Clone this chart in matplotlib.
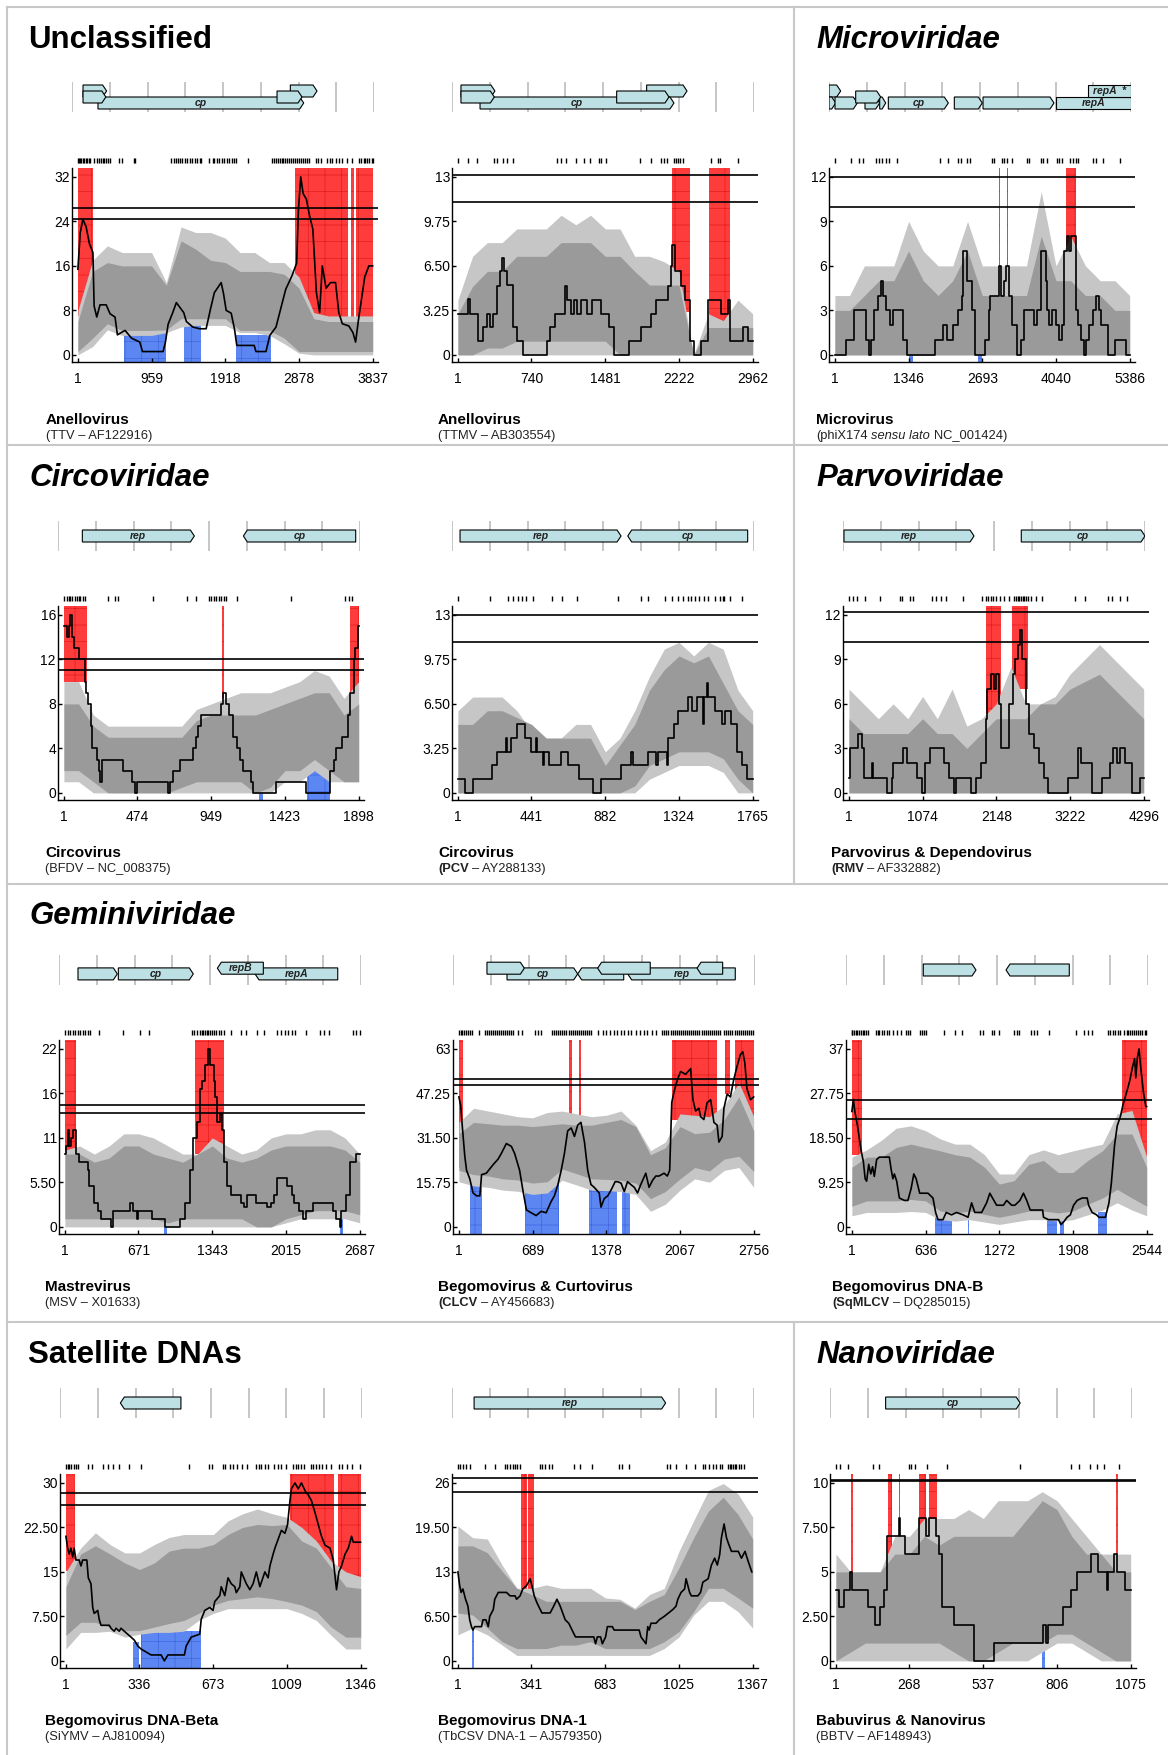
import matplotlib
matplotlib.use("Agg")
import matplotlib.pyplot as plt
from matplotlib.lines import Line2D
from matplotlib.patches import Polygon

plt.rcParams['font.family'] = ['Liberation Sans', 'DejaVu Sans']
plt.rcParams['hatch.linewidth'] = 0.5

W, H = 1168, 1755
NARROW = ['Liberation Sans Narrow', 'DejaVu Sans Condensed', 'Liberation Sans']

RED, RED_GRID = '#ff3c3c', '#e21c1c'
BLUE, BLUE_GRID = '#5c86f2', '#3f68e0'
LIGHT, DARK = '#c6c6c6', '#9a9a9a'
GENE = '#bce0e3'

# band values are sampled every 5 % of the genome
BAND_PCT = [0, 5, 10, 15, 20, 25, 30, 35, 40, 45, 50, 55, 60, 65, 70, 75, 80, 85, 90, 95, 100]

# ---------------- Anellovirus TTV ----------------
ttv_len = 3837
ttv_xlabels = ['1', '959', '1918', '2878', '3837']
ttv_yticks = [0, 8, 16, 24, 32]
ttv_ylabels = ['0', '8', '16', '24', '32']
ttv_thr = [26.4, 24.4]
ttv_line_pct = [0, 0.8, 1.7, 2.8, 3.9, 5.1, 5.5, 6.4, 7.5, 9.6, 10.9, 12.6, 13.4, 16.0, 18.2, 21.0, 21.9, 28.9,
                29.7, 30.6, 32.1, 33.4, 35.9, 36.8, 39.0, 41.3, 43.5, 45.0, 46.3, 48.6, 49.4, 50.3, 52.0, 53.1,
                53.9, 59.8, 60.4, 63.8, 65.1, 67.2, 68.8, 70.5, 72.6, 74.2, 74.8, 75.6, 76.4, 77.5, 78.6, 79.7,
                80.9, 82.0, 82.9, 84.2, 85.7, 87.4, 88.5, 89.7, 91.9, 93.3, 94.2, 95.1, 96.2, 97.3, 98.7, 100]
ttv_line_val = [15.4, 22, 24.4, 23, 20, 18.4, 8.8, 6.8, 9.0, 9.0, 7.4, 6.8, 3.6, 4.4, 3.0, 2.3, 0.6, 0.6, 2.3,
                5.5, 7.5, 9.4, 7.6, 6, 5, 4.7, 4.7, 8.3, 11.2, 13, 11, 8, 7.5, 4.7, 1.7, 1.7, 0.6, 0.6, 3.5, 5,
                8.3, 11.8, 14.2, 16.5, 26, 32, 29, 28, 25, 22.6, 11.2, 7.6, 16, 12, 13, 13, 7.6, 5.6, 5.2, 4,
                2.3, 6, 10, 14, 16, 16]
ttv_light_hi = [8, 17, 19.6, 18.4, 18.4, 18.4, 13, 23, 22, 22, 21, 18.4, 18.4, 16.6, 16.6, 14, 7.6, 7, 7, 7, 7]
ttv_dark_hi = [6, 15, 16.6, 16, 16, 16, 12.5, 20.5, 19, 17, 16.6, 15, 15, 15, 14.5, 12, 6.5, 6, 6, 6, 6]
ttv_dark_lo = [0.6, 3, 5.6, 4.4, 4.4, 4.4, 4.5, 6.5, 6.5, 6.5, 6.5, 4.4, 4.4, 4.4, 3, 0.6, 0.6, 0.6, 0.6, 0.6, 0.6]
ttv_light_lo = [0, 1.5, 4.5, 3.5, 3.5, 3.5, 4, 5, 5.3, 5.3, 5.3, 4, 4, 3.5, 2, 0.3, 0, 0, 0, 0, 0]
ttv_red = [(0, 5.2, 7), (73.7, 91.6, 5.5), (92.5, 93.6, 5.5), (94.5, 100, 5.5)]
ttv_blue = [(15.6, 30.0, 4.0), (36.0, 41.6, 6.8), (53.8, 65.5, 3.5)]
ttv_rug = [0, 0.3, 0.8, 1.2, 1.7, 2.1, 2.6, 3.0, 3.6, 4.2, 5.6, 6.4, 7.2, 7.8, 8.4, 9.0, 9.6, 10.1, 10.9, 13.9,
           14.8, 19.0, 19.3, 31.7, 32.5, 33.2, 34.0, 34.8, 35.4, 36.2, 37.0, 37.9, 38.7, 39.6, 40.4, 41.3, 41.8,
           44.4, 45.8, 46.3, 47.1, 48.0, 48.8, 49.7, 50.5, 51.4, 52.2, 53.1, 53.7, 57.6, 65.8, 66.5, 67.2, 67.8,
           68.5, 69.2, 69.6, 70.3, 71.0, 71.7, 72.3, 73.0, 73.7, 74.4, 75.0, 75.7, 76.4, 77.1, 77.7, 78.4, 80.7,
           81.6, 82.3, 84.6, 85.4, 86.1, 87.6, 88.5, 89.7, 91.3, 93.0, 95.5, 96.2, 96.9, 97.5, 98.2, 98.9, 99.6, 100]
ttv_genes = [(140, 440, 1, 2, ''), (2774, 3113, 1, 2, ''), (330, 2944, 1, 0, 'cp'),
             (140, 430, 1, 1, ''), (2605, 2922, 1, 1, '')]

# ---------------- Anellovirus TTMV ----------------
ttmv_len = 2962
ttmv_xlabels = ['1', '740', '1481', '2222', '2962']
ttmv_yticks = [0, 3.25, 6.5, 9.75, 13]
ttmv_ylabels = ['0', '3.25', '6.50', '9.75', '13']
ttmv_thr = [13.17, 11.15]
ttmv_line_pct = [0, 3.4, 4.0, 6.8, 8.5, 9.9, 10.8, 12.0, 13.1, 14.2, 15.1, 15.6, 16.5, 18.8, 19.9, 22.0, 30.2,
                 31.3, 33.0, 36.4, 37.0, 38.2, 39.3, 40.5, 41.6, 43.8, 45.6, 48.4, 51.3, 53.0, 58.1, 62.1, 65.5,
                 67.2, 71.2, 72.3, 72.6, 73.5, 75.7, 76.9, 78.6, 80.1, 82.3, 84.9, 89.2, 91.5, 92.3, 96.8, 98.5, 100]
ttmv_line_val = [3.0, 4.1, 3.0, 1.0, 2.0, 3.0, 2.0, 3.0, 5.0, 6.1, 7.1, 6.1, 5.1, 2.0, 1.0, 0, 1.0, 2.0, 3.0,
                 5.0, 4.0, 3.0, 4.0, 3.0, 4.0, 3.0, 4.0, 3.0, 2.0, 0, 1.0, 2.0, 3.0, 4.0, 5.0, 6.5, 8.0, 6.1,
                 5.0, 4.0, 1.0, 0, 1.0, 4.0, 3.0, 4.0, 1.0, 2.0, 1.0, 1.0]
ttmv_light_hi = [4, 7.2, 8.2, 8.2, 9.2, 9.2, 9.2, 10.2, 9.5, 10.2, 9.2, 9.2, 7.2, 7.2, 6.8, 6.1, 0, 3, 2.5, 4, 3]
ttmv_dark_hi = [3, 5, 6.1, 6.1, 7.2, 7.2, 7.2, 8.2, 8.2, 8.2, 7.2, 7.2, 6.1, 5.1, 5.1, 5.1, 0, 2, 2, 2, 2]
ttmv_dark_lo = [0, 0, 0.5, 0.5, 1, 1, 1, 1, 1, 1, 1, 0, 0, 0, 0, 0, 0, 0, 0, 0, 0]
ttmv_light_lo = [0, 0, 0, 0, 0, 0, 0, 0, 0, 0, 0, 0, 0, 0, 0, 0, 0, 0, 0, 0, 0]
ttmv_red = [(72.6, 78.7, 3.1), (85.2, 92.3, 2.1)]
ttmv_blue = []
ttmv_rug = [0, 3.4, 6.6, 12.3, 13.1, 15.4, 16.7, 18.8, 33.6, 35.1, 36.7, 39.9, 42.7, 44.8, 47.8, 48.7, 50.1,
            61.8, 65.5, 68.9, 69.8, 70.9, 73.2, 74.0, 74.8, 75.5, 76.3, 85.8, 88.3, 88.8, 94.9]
ttmv_genes = [(88, 421, 1, 2, ''), (1909, 2305, 1, 2, ''), (275, 2177, 1, 0, 'cp'),
              (88, 415, 1, 1, ''), (1615, 2128, 1, 1, '')]

# ---------------- Microvirus phiX174 ----------------
phix_len = 5386
phix_xlabels = ['1', '1346', '2693', '4040', '5386']
phix_yticks = [0, 3, 6, 9, 12]
phix_ylabels = ['0', '3', '6', '9', '12']
phix_thr = [12.0, 10.0]
phix_line_pct = [0, 3.8, 6.6, 10.6, 11.7, 12.3, 13.4, 14.6, 15.7, 16.3, 17.4, 18.6, 19.7, 23.1, 24.3, 33.9, 36.8,
                 37.9, 40.2, 41.9, 43.1, 43.6, 44.8, 46.5, 47.6, 51.0, 52.2, 52.7, 55.6, 56.2, 57.3, 57.9, 59.0,
                 60.1, 61.8, 63.0, 64.1, 67.5, 68.7, 69.8, 71.5, 72.1, 72.7, 73.8, 74.9, 76.1, 77.2, 77.8, 78.9,
                 79.5, 80.1, 81.8, 82.3, 83.5, 84.6, 85.2, 86.3, 87.5, 88.6, 89.7, 90.3, 92.6, 94.9, 98.9, 100]
phix_line_val = [0, 1, 3, 1, 0, 1, 3, 4, 5, 4, 3, 2, 3, 1, 0, 1, 2, 1, 2, 3, 4, 7, 5, 3, 0, 1, 3, 4, 6, 4, 5, 6,
                 4, 2, 0, 1, 3, 2, 3, 7, 5, 3, 2, 3, 2, 1, 2, 7, 8, 7, 8, 3, 2, 1, 0, 1, 2, 3, 4, 3, 2, 0, 1, 0, 0]
phix_light_hi = [4, 4, 6, 6, 6, 9, 7, 6, 6, 9, 6, 6, 6, 6, 11, 6, 8, 6, 5, 5, 4]
phix_dark_hi = [3, 3, 4, 5, 5, 7, 5, 4, 5, 7, 4, 4, 4, 4, 8, 5, 5, 4, 4, 3, 3]
phix_dark_lo = [0, 0, 0, 0, 0, 0, 0, 0, 0, 0, 0, 0, 0, 0, 0, 0, 0, 0, 0, 0, 0]
phix_light_lo = [0, 0, 0, 0, 0, 0, 0, 0, 0, 0, 0, 0, 0, 0, 0, 0, 0, 0, 0, 0, 0]
phix_red = [(55.5, 55.8, 6), (58.3, 58.6, 6), (78.4, 81.8, 6)]
phix_blue = [(25.1, 26.5, 1), (48.4, 49.9, 1)]
phix_rug = [0, 5.5, 8.3, 9.7, 14.0, 14.9, 16.1, 17.4, 18.3, 21.1, 35.6, 38.5, 41.9, 42.7, 44.8, 45.7, 53.3, 54.1,
            56.7, 57.5, 58.4, 60.1, 65.0, 65.8, 69.8, 70.7, 71.9, 75.3, 76.1, 77.2, 79.8, 80.6, 81.8, 82.6, 87.5,
            88.6, 90.9, 96.6]
phix_genes = [(0, 208, 1, 2, ''), (0, 120, 1, 0, ''), (107, 505, 1, 0, ''), (642, 904, 1, 0, ''),
              (904, 1011, 1, 0, ''), (1058, 2128, 1, 0, 'cp'), (2235, 2734, 1, 0, ''), (2747, 4013, 1, 0, ''),
              (4043, 5386, 0, 0, 'repA'), (4625, 5386, 0, 2, 'repA  *'), (476, 922, 1, 1, '')]

# ---------------- Circovirus BFDV ----------------
bfdv_len = 1898
bfdv_xlabels = ['1', '474', '949', '1423', '1898']
bfdv_yticks = [0, 4, 8, 12, 16]
bfdv_ylabels = ['0', '4', '8', '12', '16']
bfdv_thr = [12.0, 11.04]
bfdv_line_pct = [0, 1.1, 1.7, 2.0, 2.7, 3.4, 5.1, 7.3, 7.6, 8.1, 9.2, 9.7, 11.2, 11.8, 12.4, 12.9, 20.2, 23.0,
                 24.2, 24.9, 35.4, 36.0, 37.1, 39.3, 43.8, 44.9, 45.5, 46.6, 53.4, 53.9, 55.1, 56.0, 57.3, 58.7,
                 59.6, 60.7, 63.5, 64.0, 71.9, 82.0, 90.4, 91.6, 92.4, 94.4, 96.4, 97.2, 98.3, 98.9, 99.8, 100]
bfdv_line_val = [15, 14, 15, 16, 14, 13, 12, 10, 9, 8, 6, 4, 3, 2, 1, 3, 2, 1, 0, 1, 0, 1, 2, 3, 4, 5, 6, 7, 8,
                 9, 8, 7, 5, 4, 3, 2, 1, 0, 1, 0, 2, 3, 4, 5, 7, 9, 12, 13, 15, 15]
bfdv_light_hi = [10, 10, 7, 6, 6, 6, 6, 6, 6, 7.5, 8, 8.5, 9, 9, 9, 9.5, 10, 11, 10.5, 8.5, 10]
bfdv_dark_hi = [8, 8, 6, 5, 5, 5, 5, 5, 5, 6.5, 7, 7, 7, 7, 7.5, 8, 8.5, 9, 9, 7, 8]
bfdv_dark_lo = [2, 2, 1, 0, 0, 0, 0, 0, 0.5, 1, 1, 1, 1, 0, 0.5, 2, 2, 3, 2, 1, 1]
bfdv_light_lo = [1, 1, 0, 0, 0, 0, 0, 0, 0, 0, 0, 0, 0, 0, 0, 1, 1, 2, 1, 1, 1]
bfdv_red = [(0, 7.9, 10), (53.6, 54.3, 8.5), (97.0, 100, 8)]
bfdv_blue = [(66.1, 67.4, 1), (82.6, 90.4, 2)]
bfdv_rug = [0.2, 0.9, 1.7, 2.2, 2.8, 3.6, 4.3, 5.1, 5.6, 6.5, 7.3, 14.9, 17.4, 18.2, 30.3, 41.6, 44.9, 49.2, 50.0,
            50.8, 51.7, 52.5, 53.4, 54.2, 55.1, 58.8, 77.2, 95.5, 96.6, 97.8]
bfdv_genes = [(153, 857, 1, 1, 'rep'), (1165, 1871, -1, 1, 'cp')]

# ---------------- Circovirus PCV ----------------
pcv_len = 1765
pcv_xlabels = ['1', '441', '882', '1324', '1765']
pcv_yticks = [0, 3.25, 6.5, 9.75, 13]
pcv_ylabels = ['0', '3.25', '6.50', '9.75', '13']
pcv_thr = [13.0, 11.0]
pcv_line_pct = [0, 2.5, 5.1, 11.6, 13.3, 16.2, 16.6, 17.9, 20.1, 22.6, 24.7, 26.4, 27.0, 28.7, 29.2, 30.9, 34.9,
                37.2, 41.2, 45.7, 48.4, 55.4, 58.6, 59.4, 64.5, 67.3, 67.9, 70.8, 71.3, 73.4, 74.8, 78.2, 79.3,
                81.0, 83.3, 83.6, 84.4, 85.0, 87.3, 89.5, 90.7, 92.7, 94.7, 96.4, 98.1, 100]
pcv_line_val = [1, 0, 1, 2, 3, 4, 3, 4, 5, 4, 3, 4, 3, 2, 3, 2, 3, 2, 1, 0, 1, 2, 3, 2, 3, 2, 3, 2, 4, 5, 6, 7,
                6, 7, 5, 7, 8, 7, 6, 5, 6, 5, 3, 2, 1, 1]
pcv_light_hi = [6, 7, 7, 7, 6, 4.5, 4, 4, 5, 5, 3, 4, 6, 8.5, 10.5, 11, 10, 11, 10.5, 7.5, 6]
pcv_dark_hi = [5, 5, 6, 6, 5.5, 5, 4, 4, 4, 4, 2, 3.5, 5, 7.5, 9, 10, 9.5, 10, 8, 6, 5]
pcv_dark_lo = [0, 0, 0, 0, 0, 0, 0, 0, 0, 0, 0, 0, 0.5, 2, 2.5, 3, 3, 3, 2.5, 1, 0]
pcv_light_lo = [0, 0, 0, 0, 0, 0, 0, 0, 0, 0, 0, 0, 0, 1, 1.5, 2, 2, 2, 1.5, 0, 0]
pcv_red = []
pcv_blue = []
pcv_rug = [0.2, 10.8, 17.1, 18.8, 20.4, 21.8, 23.0, 25.6, 31.9, 35.3, 40.3, 54.3, 62.2, 64.5, 70.2, 72.7, 74.5,
           76.5, 77.9, 79.1, 80.4, 81.9, 83.6, 84.8, 87.3, 89.0, 89.8, 90.4, 92.4, 96.4]
pcv_genes = [(47, 988, 1, 1, 'rep'), (1027, 1728, -1, 1, 'cp')]

# ---------------- Parvovirus RMV ----------------
rmv_len = 4296
rmv_xlabels = ['1', '1074', '2148', '3222', '4296']
rmv_yticks = [0, 3, 6, 9, 12]
rmv_ylabels = ['0', '3', '6', '9', '12']
rmv_thr = [12.2, 10.2]
rmv_line_pct = [0, 0.3, 3.2, 4.3, 5.1, 7.7, 8.3, 12.9, 14.6, 15.1, 18.5, 19.7, 23.1, 24.8, 25.9, 27.6, 32.2, 33.9,
                35.6, 36.5, 41.3, 43.0, 44.7, 46.4, 47.0, 48.1, 49.3, 49.8, 51.0, 51.5, 54.4, 55.5, 56.3, 57.2,
                58.1, 58.6, 60.1, 61.2, 62.9, 64.6, 66.3, 67.7, 74.3, 77.7, 78.8, 82.3, 85.7, 88.5, 89.6, 90.8,
                91.9, 93.6, 95.9, 98.7, 100]
rmv_line_val = [1, 3, 4, 3, 1, 2, 1, 0, 1, 2, 3, 2, 1, 0, 2, 3, 2, 1, 0, 1, 0, 1, 2, 5, 7, 8, 7, 8, 6, 3, 6, 8, 9,
                10, 11, 9, 6, 4, 3, 2, 1, 0, 1, 3, 2, 0, 1, 2, 3, 2, 3, 2, 0, 1, 1]
rmv_light_hi = [7, 6, 5, 6, 5, 6.5, 5, 7, 4.5, 5, 6, 8.5, 6, 6, 6.5, 8, 9, 10, 9, 8, 7]
rmv_dark_hi = [5, 4, 4, 4, 4, 5, 4, 4, 3, 4, 5, 5, 5, 6, 6, 7, 7.5, 8, 7, 6, 5]
rmv_dark_lo = [0, 0, 0, 0, 0, 0, 0, 0, 0, 0, 0, 0, 0, 0, 0, 0, 0, 0, 0, 0, 0]
rmv_light_lo = [0, 0, 0, 0, 0, 0, 0, 0, 0, 0, 0, 0, 0, 0, 0, 0, 0, 0, 0, 0, 0]
rmv_red = [(46.4, 51.5, 5.3), (55.3, 60.6, 7)]
rmv_blue = []
rmv_rug = [0, 1.5, 2.6, 5.5, 10.4, 17.2, 18.0, 20.6, 21.7, 28.2, 29.7, 31.3, 33.1, 38.8, 45.3, 46.4, 47.2, 48.1,
           49.0, 49.8, 51.3, 52.7, 54.4, 56.1, 56.7, 57.2, 57.8, 58.4, 58.9, 59.5, 60.1, 60.9, 61.8, 63.5, 65.4,
           76.6, 80.0, 87.9, 89.1, 91.9, 94.2]
rmv_genes = [(14, 1864, 1, 1, 'rep'), (2536, 4296, 1, 1, 'cp')]

# ---------------- Mastrevirus MSV ----------------
msv_len = 2687
msv_xlabels = ['1', '671', '1343', '2015', '2687']
msv_yticks = [0, 5.5, 11, 16.5, 22]
msv_ylabels = ['0', '5.50', '11', '16', '22']
msv_thr = [15.07, 14.08]
msv_line_pct = [0, 0.3, 0.9, 1.5, 2.1, 2.6, 3.8, 4.9, 7.7, 8.3, 10.0, 11.2, 12.3, 15.7, 16.3, 22.0, 23.1, 24.3,
                24.8, 29.4, 33.9, 39.1, 40.8, 42.5, 43.6, 44.8, 45.9, 46.5, 47.6, 48.7, 49.3, 50.5, 51.0, 51.6,
                52.7, 53.3, 53.9, 55.0, 56.2, 59.6, 60.7, 61.8, 64.7, 68.7, 69.8, 71.0, 72.1, 75.5, 77.2, 77.8,
                79.5, 80.6, 81.8, 84.1, 90.9, 92.0, 93.2, 93.7, 95.4, 96.6, 98.9, 100]
msv_line_val = [9, 10, 12, 10, 11, 12, 9, 8, 7, 5, 3, 2, 1, 0, 2, 3, 2, 1, 2, 1, 0, 1, 3, 7, 11, 13, 17, 18, 20,
                22, 20, 18, 16, 13, 14, 12, 8, 5, 4, 3, 2.5, 4, 3, 2.5, 3, 4, 6, 5, 4, 3, 2, 1, 2, 3, 2, 1, 0, 2,
                4, 8, 9, 9]
msv_light_hi = [9.5, 10, 9, 10, 11.5, 11.5, 11, 10, 9, 9, 11, 10, 9, 9.5, 11, 11.5, 11.5, 12, 12, 11, 9]
msv_dark_hi = [9, 9, 8, 8.5, 10, 10, 9, 8.5, 8, 9, 10, 8.5, 8, 8.5, 9.5, 10, 10, 10, 10, 9.5, 8]
msv_dark_lo = [1, 1, 1, 1, 1, 1, 1, 0.5, 1, 1, 1, 1, 1, 0, 0, 1, 1.5, 2, 2, 2, 1.5]
msv_light_lo = [0, 0, 0, 0, 0, 0, 0, 0, 0, 0, 0, 0, 0, 0, 0, 0.5, 1, 1, 1, 1, 0.5]
msv_red = [(0.1, 3.8, 9), (44.2, 53.9, 9)]
msv_blue = [(33.7, 34.7, 1), (93.2, 94.3, 1)]
msv_rug = [0, 0.9, 1.7, 2.6, 3.5, 4.3, 5.1, 6.0, 6.9, 7.7, 8.5, 11.7, 19.7, 25.4, 28.6, 43.1, 43.8, 44.8, 45.9,
           46.5, 47.0, 47.6, 48.2, 48.7, 49.3, 49.9, 50.5, 51.4, 52.2, 53.0, 53.9, 56.2, 59.6, 61.3, 65.0, 67.5,
           72.1, 73.2, 74.6, 75.7, 77.2, 78.0, 81.8, 86.7, 87.8, 89.7, 97.7, 98.9, 100]
msv_genes = [(169, 519, 1, 0.35, ''), (528, 1195, 1, 0.35, 'cp'), (1744, 2480, -1, 0.35, 'repA'),
             (1409, 1818, -1, 1.3, 'repB')]

# ---------------- Begomovirus CLCV ----------------
clcv_len = 2756
clcv_xlabels = ['1', '689', '1378', '2067', '2756']
clcv_yticks = [0, 15.75, 31.5, 47.25, 63]
clcv_ylabels = ['0', '15.75', '31.50', '47.25', '63']
clcv_thr = [52.2, 50.2]
clcv_line_pct = [0, 0.6, 1.2, 2.0, 2.6, 3.7, 4.8, 6.0, 7.1, 7.7, 9.3, 11.6, 13.3, 14.4, 16.1, 17.8, 18.9, 20.6,
                 21.7, 22.9, 24.5, 26.2, 27.9, 29.6, 31.3, 32.4, 33.6, 34.7, 35.8, 36.9, 38.1, 39.2, 40.3, 41.4,
                 42.6, 43.7, 44.8, 45.9, 47.6, 48.2, 49.3, 50.5, 51.6, 53.0, 53.8, 55.0, 56.1, 57.2, 58.3, 59.5,
                 60.6, 61.7, 63.4, 64.5, 65.7, 66.8, 67.9, 69.6, 70.7, 71.5, 72.2, 73.0, 74.1, 75.2, 76.9, 78.6,
                 79.4, 80.3, 81.4, 82.0, 83.1, 84.2, 85.4, 86.5, 87.6, 88.2, 89.3, 89.9, 91.0, 92.1, 93.2, 94.4,
                 95.5, 96.3, 97.0, 97.7, 98.9, 100]
clcv_line_val = [46, 43, 35, 25, 20, 17, 12, 11, 11, 18.5, 19, 22, 24, 26, 29.5, 28.5, 26, 20, 13, 6, 5, 4, 5.5,
                 5, 9, 11, 15, 20, 26, 34, 35, 32, 36, 37, 30, 20, 15, 14, 12, 7, 10, 11, 13, 16, 16, 15.5, 12.5,
                 16, 15, 14, 12, 15, 19, 14, 16.5, 18, 18, 19, 18, 20, 44, 48, 52, 55, 54, 56, 45, 41, 42, 39,
                 38, 44, 45, 37, 36, 30, 32, 42, 47, 46, 52, 57, 61, 62, 58, 49, 45, 46]
clcv_light_hi = [37, 42, 41, 40, 39, 38.6, 40.5, 41, 40, 39, 39.5, 41, 36, 27, 30, 40, 39.5, 39, 43, 51, 39]
clcv_dark_hi = [33, 37, 36.5, 36, 36, 35.5, 36, 36.5, 36, 36, 37, 38, 35.5, 25.5, 28, 35.5, 33, 33.5, 38, 46, 34]
clcv_dark_lo = [20, 18.5, 18, 17, 16.6, 15.5, 16, 20.5, 18.8, 17, 16.8, 16.5, 15.5, 10, 12.5, 17, 21, 19.8, 24, 25,
                19.6]
clcv_light_lo = [16, 14.5, 14, 13, 12.6, 11.5, 12, 16.5, 14.8, 13, 12.8, 12.5, 11.5, 5.5, 8, 13, 17, 15.8, 20, 21,
                 14]
clcv_red = [(0, 1.5, 20.8), (37.2, 38.4, 36), (40.9, 41.1, 38.6), (72.4, 87.6, 38), (90.2, 91.8, 47),
            (93.6, 100, 38.6)]
clcv_blue = [(3.7, 7.7, 18.4), (22.3, 34.1, 19), (44.3, 53.8, 17.8), (55.3, 58.0, 17.2)]
clcv_rug = [0, 0.6, 1.2, 1.8, 2.4, 3.0, 3.6, 4.3, 6.9, 8.8, 9.5, 10.1, 10.8, 11.5, 12.2, 12.8, 13.5, 14.2, 14.8,
            15.5, 16.2, 16.9, 17.6, 18.3, 20.0, 21.5, 25.7, 26.8, 27.9, 31.6, 32.3, 33.0, 33.7, 34.4, 35.1, 35.8,
            36.5, 37.2, 37.9, 38.6, 39.3, 40.0, 40.7, 41.4, 42.1, 42.8, 43.5, 44.2, 44.9, 47.1, 48.8, 49.9, 51.2,
            52.7, 53.8, 54.9, 56.1, 57.2, 58.3, 60.2, 61.4, 62.8, 63.9, 65.4, 66.7, 69.0, 69.7, 70.4, 71.1, 71.8,
            72.5, 73.2, 73.9, 74.6, 75.3, 76.0, 76.7, 77.4, 78.1, 78.8, 79.5, 80.2, 80.9, 81.6, 82.3, 83.0, 83.7,
            84.4, 85.1, 85.8, 86.5, 87.2, 87.9, 88.6, 90.0, 90.7, 91.4, 92.1, 92.8, 93.5, 94.2, 94.9, 95.6, 96.3,
            97.0, 97.7, 98.4, 99.1, 99.8]
clcv_genes = [(493, 1138, 1, 0.35, 'cp'), (1138, 1558, -1, 0.35, ''), (1594, 2576, -1, 0.35, 'rep'),
              (310, 651, 1, 1.3, ''), (1320, 1800, -1, 1.3, ''), (2227, 2461, -1, 1.3, '')]

# ---------------- Begomovirus DNA-B SqMLCV ----------------
sqm_len = 2544
sqm_xlabels = ['1', '636', '1272', '1908', '2544']
sqm_yticks = [0, 9.25, 18.5, 27.75, 37]
sqm_ylabels = ['0', '9.25', '18.50', '27.75', '37']
sqm_thr = [26.3, 22.4]
sqm_line_pct = [0, 0.5, 1.0, 1.9, 3.1, 3.9, 4.5, 5.0, 5.7, 6.4, 7.0, 7.6, 8.4, 9.3, 12.7, 13.3, 13.9, 14.4, 15.2,
                16.1, 17.8, 19.0, 20.1, 21.0, 21.8, 23.0, 25.8, 27.5, 28.4, 29.2, 30.9, 32.0, 33.8, 35.5, 37.7,
                39.4, 40.6, 41.7, 44.0, 45.7, 46.8, 47.7, 49.1, 51.4, 52.5, 54.2, 55.3, 57.0, 58.2, 59.3, 60.5,
                64.7, 65.0, 66.7, 70.1, 70.9, 71.8, 73.0, 74.1, 75.2, 76.4, 78.1, 79.8, 80.3, 81.5, 83.0, 83.8,
                86.0, 87.2, 88.0, 89.1, 90.0, 91.1, 92.0, 93.2, 94.3, 95.1, 95.9, 96.3, 96.8, 97.4, 98.0, 98.9,
                99.7, 100]
sqm_line_val = [24, 26.5, 24, 21, 16, 13.5, 10, 9.5, 13, 11, 12.5, 10.5, 14, 14.5, 14.5, 12, 10, 11, 9.5, 6, 5.5,
                5.5, 8, 11, 10, 7, 7, 6, 3, 1.5, 1.5, 3, 2.5, 3, 2.5, 2, 5, 3, 3, 5, 7, 6, 4.5, 4.5, 5.5, 4.5,
                4.5, 5.5, 7, 5.5, 3.5, 3.5, 2, 1.5, 1.5, 0.5, 1, 2, 2.5, 4.5, 5.5, 6, 6, 4.5, 3, 2.5, 2, 2, 5, 9,
                17, 21, 23, 25.5, 28, 30.5, 33, 35, 31, 35, 37, 33, 28, 25, 25]
sqm_light_hi = [14.5, 16, 18, 20.5, 21, 20, 18.3, 17.2, 17.2, 15, 11, 11, 15, 16, 15, 15.8, 16.5, 17.2, 23.5,
                24.2, 14.5]
sqm_dark_hi = [12.4, 14.5, 14.5, 16.5, 17.2, 16.5, 15.8, 15, 14.5, 12.4, 8.9, 9.6, 13, 13.8, 11.3, 11.3, 13.8,
               15.8, 19.3, 19.3, 12.4]
sqm_dark_lo = [4.3, 5.4, 5.4, 5.4, 5.7, 5.4, 3.3, 2.9, 3.3, 2.6, 2, 2.6, 3.3, 3.3, 2.9, 3.3, 4.7, 6, 7.8, 6, 4.3]
sqm_light_lo = [2.3, 3, 3, 3, 3.2, 3, 1.5, 1.2, 1.5, 1, 0.5, 1, 1.5, 1.5, 1.2, 1.5, 2.5, 3.5, 5, 3.5, 2.3]
sqm_red = [(0, 3.4, 15), (91.5, 100, 14.5)]
sqm_blue = [(28.1, 33.8, 3), (39.4, 39.7, 2), (66.1, 69.5, 2), (70.7, 72.0, 1.5), (83.4, 86.4, 3)]
sqm_rug = [0, 0.2, 0.8, 1.4, 1.9, 2.5, 3.1, 3.6, 4.2, 4.8, 5.6, 8.2, 8.8, 9.3, 10.2, 11.0, 11.8, 12.5, 14.1, 15.2,
           16.7, 18.2, 19.1, 19.8, 23.2, 23.9, 24.5, 25.2, 31.1, 35.1, 37.4, 43.6, 44.5, 47.4, 48.2, 50.0, 55.0,
           55.9, 56.8, 60.7, 61.8, 62.7, 66.7, 76.1, 78.6, 80.0, 81.3, 86.8, 87.7, 88.6, 89.4, 90.2, 91.1, 92.3,
           93.2, 93.6, 94.3, 95.1, 95.7, 96.4, 97.0, 97.7, 98.5, 99.3, 99.8]
sqm_genes = [(651, 1095, 1, 1, ''), (1348, 1881, -1, 1, '')]

# ---------------- Begomovirus DNA-Beta SiYMV ----------------
siy_len = 1346
siy_xlabels = ['1', '336', '673', '1009', '1346']
siy_yticks = [0, 7.5, 15, 22.5, 30]
siy_ylabels = ['0', '7.50', '15', '22.50', '30']
siy_thr = [28.3, 26.2]
siy_line_pct = [0, 0.6, 1.1, 1.7, 2.3, 2.8, 3.4, 4.5, 5.1, 5.7, 7.1, 7.6, 8.5, 9.1, 9.6, 10.8, 11.3, 11.9, 14.7,
                15.3, 16.4, 17.0, 18.1, 18.7, 19.8, 22.1, 23.2, 24.4, 25.5, 28.9, 32.3, 33.4, 34.6, 40.2, 40.8,
                42.5, 45.4, 45.9, 47.1, 48.8, 49.9, 50.5, 52.2, 52.7, 53.9, 55.0, 56.1, 57.3, 57.8, 59.0, 59.5,
                61.2, 62.4, 63.5, 64.6, 65.8, 67.5, 68.6, 69.2, 70.3, 70.9, 72.0, 73.1, 74.3, 75.2, 76.0, 76.5,
                77.7, 78.8, 79.9, 81.3, 82.2, 83.3, 84.5, 85.6, 86.7, 87.9, 89.6, 90.7, 91.8, 92.6, 93.5, 94.7,
                95.8, 96.9, 97.5, 100]
siy_line_val = [21, 19, 18, 19, 17.5, 19, 17, 17, 16, 17, 17, 14, 13, 9, 8, 8.5, 7, 6, 6, 5.5, 5, 5.5, 5, 5.5, 5,
                4, 3.5, 2.5, 2, 1, 1, 0, 1, 1, 2.5, 4, 4.5, 7, 8.5, 9, 8.5, 10, 11, 12.5, 11, 14, 13, 12.5, 11.5,
                12.5, 15, 13, 12, 13, 15, 12.5, 15, 14, 16, 18, 19, 20.5, 22, 21.5, 23, 27, 29, 30, 29, 30, 28.5,
                28, 27, 25, 23, 21, 19.5, 19, 17, 12, 15, 16, 18, 19, 21, 20, 20]
siy_light_hi = [15, 19, 21.6, 19.6, 18.2, 18.2, 19.6, 20.8, 21.3, 21.3, 21.3, 23.6, 24.8, 25.6, 24.8, 24.2, 22.5,
                20.2, 16.8, 15, 14.2]
siy_dark_hi = [12.5, 18, 19.4, 18, 16.5, 15.4, 16.5, 18.5, 19, 19, 19.6, 21.3, 22.5, 23, 22.8, 23, 20.2, 19,
               15.7, 12.5, 12.2]
siy_dark_lo = [4.3, 6.5, 6.5, 5.7, 5.1, 5.1, 5.7, 6.3, 6.8, 8, 9.4, 10.2, 10.5, 10.8, 10.5, 10, 9.4, 8.3, 5.7, 4, 4]
siy_light_lo = [2, 4.8, 4.8, 5, 4, 4.5, 4.8, 4.8, 5, 6.8, 8, 8.8, 8.8, 8.8, 8.8, 8.8, 8, 6.8, 4.3, 2, 2]
siy_red = [(0, 3.1, 15.2), (76.0, 91.1, 15), (92.2, 100, 14.2)]
siy_blue = [(22.9, 24.7, 3.1), (25.5, 45.7, 5)]
siy_rug = [0, 0.6, 1.1, 1.7, 2.6, 3.4, 4.2, 7.6, 8.7, 12.5, 14.2, 15.9, 18.1, 21.5, 25.5, 41.6, 48.4, 49.5, 53.3,
           54.1, 55.6, 56.7, 58.2, 59.8, 61.6, 64.6, 65.4, 66.3, 67.5, 68.4, 70.6, 71.8, 73.1, 74.5, 77.1, 77.9,
           78.8, 79.7, 80.8, 83.3, 83.9, 84.7, 85.8, 87.0, 88.4, 89.9, 92.6, 93.5, 95.2, 96.9, 99.8]
siy_genes = [(269, 539, -1, 1, '')]

# ---------------- Begomovirus DNA-1 TbCSV ----------------
tbc_len = 1367
tbc_xlabels = ['1', '341', '683', '1025', '1367']
tbc_yticks = [0, 6.5, 13, 19.5, 26]
tbc_ylabels = ['0', '6.50', '13', '19.50', '26']
tbc_thr = [26.7, 24.7]
tbc_line_pct = [0, 0.6, 1.1, 1.7, 2.6, 3.4, 4.0, 4.6, 5.1, 5.7, 8.0, 8.5, 9.5, 10.3, 10.8, 12.0, 12.5, 13.7, 16.5,
                17.7, 19.4, 19.9, 21.1, 22.0, 23.3, 24.5, 25.1, 25.9, 26.8, 28.5, 31.3, 32.5, 33.6, 34.7, 36.4,
                37.6, 39.3, 39.9, 46.1, 46.7, 47.3, 48.4, 49.0, 50.1, 50.7, 52.4, 53.0, 61.5, 62.1, 63.8, 64.4,
                64.9, 65.5, 67.2, 68.3, 70.0, 72.9, 74.0, 74.6, 75.7, 76.9, 77.4, 78.0, 78.6, 79.2, 81.4, 82.3,
                83.1, 84.9, 86.0, 87.1, 88.0, 88.8, 89.4, 90.3, 91.1, 91.9, 92.8, 94.0, 95.1, 96.2, 97.4, 98.5, 99.7]
tbc_line_val = [13, 11, 10, 10.5, 9, 8, 6, 5, 4.5, 5, 5, 6, 6, 5, 6.5, 7.5, 9, 10, 10, 9.5, 9.5, 9, 9.5, 10.5, 11,
                12, 11, 9.5, 8.5, 7, 7, 8, 9, 8, 6, 5.5, 4, 3.5, 3.5, 2.5, 3.5, 3.5, 2.5, 3.5, 5, 5, 4.5, 4.5, 3.5,
                2.5, 5, 4.5, 5.5, 5.5, 6, 6.5, 7.5, 8, 9, 10, 10.5, 12, 11, 10, 9.5, 9.5, 10, 11.5, 12, 14, 15, 14,
                15.5, 18, 20, 18, 17, 16, 16, 16, 15, 16, 14.5, 13]
tbc_light_hi = [19.7, 18, 17.8, 14, 10.6, 10.6, 11.1, 10.6, 10.6, 10.6, 9.2, 9, 7.7, 9.7, 10.6, 16, 20.5, 24.9,
                25.9, 24.4, 21]
tbc_dark_hi = [16.8, 16.8, 15.8, 13.1, 10.6, 9.7, 8.7, 8.7, 8.7, 8.7, 8.7, 8.7, 7.5, 8.7, 9.7, 13.6, 18, 21.9, 23.9,
               21.4, 17.8]
tbc_dark_lo = [7, 6.7, 4.8, 2.8, 1.8, 1.8, 1.8, 2.3, 2.3, 2.8, 1.8, 1.8, 1.8, 1.8, 2.8, 4.3, 7.2, 10.6, 10.6, 9.2, 7.7]
tbc_light_lo = [3.8, 4.8, 3.8, 2.3, 0.8, 0.8, 0.8, 0.8, 0.8, 0.8, 0.8, 0.8, 0.8, 0.8, 1.8, 3.5, 6.7, 8.7, 8.7, 7.2,
                4.8]
tbc_red = [(21.4, 23.3, 9.7), (23.8, 25.9, 9.7)]
tbc_blue = [(4.8, 5.6, 4.5)]
tbc_rug = [0, 0.6, 1.7, 2.8, 4.2, 9.1, 12.5, 15.9, 16.7, 17.7, 18.6, 19.4, 20.2, 21.1, 27.7, 28.5, 29.6, 30.8,
           31.9, 39.3, 41.3, 45.6, 54.7, 55.8, 58.1, 71.0, 71.8, 74.0, 77.4, 80.3, 83.1, 83.9, 85.1, 86.6, 87.7,
           88.8, 89.6, 91.7, 92.3, 92.8, 93.4, 94.0, 94.5, 95.3, 96.2, 97.2]
tbc_genes = [(100, 967, 1, 1, 'rep')]

# ---------------- Babuvirus BBTV ----------------
bbtv_len = 1075
bbtv_xlabels = ['1', '268', '537', '806', '1075']
bbtv_yticks = [0, 2.5, 5, 7.5, 10]
bbtv_ylabels = ['0', '2.50', '5', '7.50', '10']
bbtv_thr = [10.15, 10.1]
bbtv_line_pct = [0, 0.9, 2.6, 4.9, 5.5, 10.8, 13.4, 15.1, 16.3, 17.4, 21.4, 21.9, 23.6, 28.2, 30.5, 31.6, 33.9,
                 35.0, 36.1, 40.1, 46.7, 53.5, 70.2, 71.2, 72.0, 77.0, 79.9, 81.9, 86.7, 89.0, 91.8, 92.4, 94.4,
                 95.2, 98.1, 100]
bbtv_line_val = [4, 3, 4, 5, 4, 3, 2, 3, 4, 7, 8, 7, 6, 8, 7, 8, 7, 6, 3, 2, 0, 1, 2, 1, 2, 3, 4, 5, 6, 5, 4, 5,
                 6, 5, 4, 4]
bbtv_light_hi = [6, 5, 5, 5, 7, 7, 8, 8, 8, 8.5, 8, 9, 9, 9, 9.5, 9, 8, 7, 6, 6, 6]
bbtv_dark_hi = [5, 5, 5, 5, 6, 6, 7, 6.5, 7, 7, 7, 7, 7, 8, 9, 8.5, 7, 6, 6, 5, 5]
bbtv_dark_lo = [0, 0.5, 1, 1, 1, 1, 1, 1, 0.5, 0, 0, 0.5, 1, 1, 1, 1.5, 1.5, 1, 0.5, 0, 0]
bbtv_light_lo = [0, 0, 0, 0, 0, 0, 0, 0, 0, 0, 0, 0, 0, 0, 0.5, 1, 1, 0.5, 0, 0, 0]
bbtv_red = [(5.2, 5.6, 5), (17.6, 19.1, 6), (21.4, 21.9, 7), (28.2, 30.5, 7), (31.6, 34.2, 7), (95.0, 95.8, 6)]
bbtv_blue = [(69.9, 71.0, 2)]
bbtv_rug = [0, 1.5, 4.0, 12.6, 14.5, 24.8, 25.6, 26.7, 30.8, 37.6, 62.6, 79.9, 82.4, 86.1, 88.6, 91.1, 96.0]
bbtv_genes = [(198, 677, 1, 1, 'cp')]

N, B, I = 'normal', 'bold', 'italic'
section_titles = [('Unclassified', 28, 48, N), ('Microviridae', 816, 48, I), ('Circoviridae', 29, 486, I),
                  ('Parvoviridae', 816, 486, I), ('Geminiviridae', 29, 924, I), ('Satellite DNAs', 28, 1363, N),
                  ('Nanoviridae', 816, 1363, I)]


def panel(length, xlabels, yticks, ylabels, thr, lpct, lval, lhi, dhi, dlo, llo, red, blue, rug, genes,
          steps, name, sub):
    return dict(length=length, xlabels=xlabels, yticks=yticks, ylabels=ylabels, thr=thr, lpct=lpct, lval=lval,
                lhi=lhi, dhi=dhi, dlo=dlo, llo=llo, red=red, blue=blue, rug=rug, genes=genes, steps=steps,
                name=name, sub=sub)


PANELS = [
    panel(ttv_len, ttv_xlabels, ttv_yticks, ttv_ylabels, ttv_thr, ttv_line_pct, ttv_line_val, ttv_light_hi,
          ttv_dark_hi, ttv_dark_lo, ttv_light_lo, ttv_red, ttv_blue, ttv_rug, ttv_genes, False,
          'Anellovirus', [('(TTV – AF122916)', N, N)]),
    panel(ttmv_len, ttmv_xlabels, ttmv_yticks, ttmv_ylabels, ttmv_thr, ttmv_line_pct, ttmv_line_val, ttmv_light_hi,
          ttmv_dark_hi, ttmv_dark_lo, ttmv_light_lo, ttmv_red, ttmv_blue, ttmv_rug, ttmv_genes, True,
          'Anellovirus', [('(TTMV – AB303554)', N, N)]),
    panel(phix_len, phix_xlabels, phix_yticks, phix_ylabels, phix_thr, phix_line_pct, phix_line_val, phix_light_hi,
          phix_dark_hi, phix_dark_lo, phix_light_lo, phix_red, phix_blue, phix_rug, phix_genes, True,
          'Microvirus', [('(phiX174', N, N), ('sensu lato', N, I), ('NC_001424)', N, N)]),
    panel(bfdv_len, bfdv_xlabels, bfdv_yticks, bfdv_ylabels, bfdv_thr, bfdv_line_pct, bfdv_line_val, bfdv_light_hi,
          bfdv_dark_hi, bfdv_dark_lo, bfdv_light_lo, bfdv_red, bfdv_blue, bfdv_rug, bfdv_genes, True,
          'Circovirus', [('(BFDV – NC_008375)', N, N)]),
    panel(pcv_len, pcv_xlabels, pcv_yticks, pcv_ylabels, pcv_thr, pcv_line_pct, pcv_line_val, pcv_light_hi,
          pcv_dark_hi, pcv_dark_lo, pcv_light_lo, pcv_red, pcv_blue, pcv_rug, pcv_genes, True,
          'Circovirus', [('(PCV', B, N), ('– AY288133)', N, N)]),
    panel(rmv_len, rmv_xlabels, rmv_yticks, rmv_ylabels, rmv_thr, rmv_line_pct, rmv_line_val, rmv_light_hi,
          rmv_dark_hi, rmv_dark_lo, rmv_light_lo, rmv_red, rmv_blue, rmv_rug, rmv_genes, True,
          'Parvovirus & Dependovirus', [('(RMV', B, N), ('– AF332882)', N, N)]),
    panel(msv_len, msv_xlabels, msv_yticks, msv_ylabels, msv_thr, msv_line_pct, msv_line_val, msv_light_hi,
          msv_dark_hi, msv_dark_lo, msv_light_lo, msv_red, msv_blue, msv_rug, msv_genes, True,
          'Mastrevirus', [('(MSV – X01633)', N, N)]),
    panel(clcv_len, clcv_xlabels, clcv_yticks, clcv_ylabels, clcv_thr, clcv_line_pct, clcv_line_val, clcv_light_hi,
          clcv_dark_hi, clcv_dark_lo, clcv_light_lo, clcv_red, clcv_blue, clcv_rug, clcv_genes, False,
          'Begomovirus & Curtovirus', [('(CLCV', B, N), ('– AY456683)', N, N)]),
    panel(sqm_len, sqm_xlabels, sqm_yticks, sqm_ylabels, sqm_thr, sqm_line_pct, sqm_line_val, sqm_light_hi,
          sqm_dark_hi, sqm_dark_lo, sqm_light_lo, sqm_red, sqm_blue, sqm_rug, sqm_genes, False,
          'Begomovirus DNA-B', [('(SqMLCV', B, N), ('– DQ285015)', N, N)]),
    panel(siy_len, siy_xlabels, siy_yticks, siy_ylabels, siy_thr, siy_line_pct, siy_line_val, siy_light_hi,
          siy_dark_hi, siy_dark_lo, siy_light_lo, siy_red, siy_blue, siy_rug, siy_genes, False,
          'Begomovirus DNA-Beta', [('(SiYMV – AJ810094)', N, N)]),
    panel(tbc_len, tbc_xlabels, tbc_yticks, tbc_ylabels, tbc_thr, tbc_line_pct, tbc_line_val, tbc_light_hi,
          tbc_dark_hi, tbc_dark_lo, tbc_light_lo, tbc_red, tbc_blue, tbc_rug, tbc_genes, False,
          'Begomovirus DNA-1', [('(TbCSV DNA-1 – AJ579350)', N, N)]),
    panel(bbtv_len, bbtv_xlabels, bbtv_yticks, bbtv_ylabels, bbtv_thr, bbtv_line_pct, bbtv_line_val, bbtv_light_hi,
          bbtv_dark_hi, bbtv_dark_lo, bbtv_light_lo, bbtv_red, bbtv_blue, bbtv_rug, bbtv_genes, True,
          'Babuvirus & Nanovirus', [('(BBTV – AF148943)', N, N)]),
]

# layout in pixels
AX_LEFT = [72, 452, 829, 58, 452, 843, 59, 453, 846, 60, 452, 830]
NAME_X = [46, 438, 816, 45, 438, 831, 45, 438, 832, 45, 438, 816]
AX_TOP = [168, 606, 1040, 1474]
MAP_TOP = [82, 521, 955, 1388]
NAME_Y = [424, 857, 1291, 1725]
AX_W, AX_H, MAP_W, MAP_H = 306, 194, 302, 30

fig = plt.figure(figsize=(W / 100, H / 100), dpi=100)
renderer = fig.canvas.get_renderer()


def px_axes(left, top, width, height):
    return fig.add_axes([left / W, 1 - (top + height) / H, width / W, height / H])


def to_bp(pct, length):
    return [1 + p / 100 * (length - 1) for p in pct]


def gene_shape(s, e, strand, yc, head):
    h = 6
    head = min(head, (e - s) * 0.6)
    if strand > 0:
        return [(s, yc - h), (e - head, yc - h), (e, yc), (e - head, yc + h), (s, yc + h)]
    if strand < 0:
        return [(s, yc), (s + head, yc - h), (e, yc - h), (e, yc + h), (s + head, yc + h)]
    return [(s, yc - h), (e, yc - h), (e, yc + h), (s, yc + h)]


def draw_panel(p, left, row, name_x):
    L = p['length']
    ax = px_axes(left, AX_TOP[row], AX_W, AX_H)
    ymax = p['yticks'][-1]
    ylo, yhi = -0.04 * ymax, 1.05 * ymax
    xmin, xmax = 1 - 0.02 * L, L * 1.018
    ax.set_xlim(xmin, xmax)
    ax.set_ylim(ylo, yhi)
    min_w = 1.4 * (xmax - xmin) / AX_W  # keep one-site regions visible

    for a, b, bot in p['red']:
        xa, xb = to_bp([a, b], L)
        ax.bar(xa, yhi - bot, width=max(xb - xa, min_w), bottom=bot, align='edge', color=RED,
               edgecolor=RED_GRID, hatch='+', linewidth=0, zorder=1)
    for a, b, top in p['blue']:
        xa, xb = to_bp([a, b], L)
        ax.bar(xa, top - ylo, width=max(xb - xa, min_w), bottom=ylo, align='edge', color=BLUE,
               edgecolor=BLUE_GRID, hatch='+', linewidth=0, zorder=1)

    bx = to_bp(BAND_PCT, L)
    ax.fill_between(bx, p['llo'], p['lhi'], color=LIGHT, linewidth=0, zorder=2)
    ax.fill_between(bx, p['dlo'], p['dhi'], color=DARK, linewidth=0, zorder=3)

    for v in p['thr']:
        ax.axhline(v, color='black', lw=1.2, zorder=4)

    ax.plot(to_bp(p['lpct'], L), p['lval'], color='black', lw=1.2, zorder=5,
            drawstyle='steps-post' if p['steps'] else 'default')

    ax.vlines(to_bp(p['rug'], L), 1 + 5 / AX_H, 1 + 10 / AX_H, transform=ax.get_xaxis_transform(),
              colors='black', lw=1.0, clip_on=False)

    ax.spines[['top', 'right']].set_visible(False)
    for s in ('left', 'bottom'):
        ax.spines[s].set_linewidth(1.0)
    ax.set_xticks([int(s) for s in p['xlabels']])
    ax.set_xticklabels(p['xlabels'], fontfamily=NARROW, fontsize=10)
    ax.set_yticks(p['yticks'])
    ax.set_yticklabels(p['ylabels'], fontfamily=NARROW, fontsize=10)
    ax.tick_params(axis='x', direction='in', length=3, width=1, pad=7)
    ax.tick_params(axis='y', direction='in', length=3, width=1, pad=1.5)

    # genome map
    mp = px_axes(left, MAP_TOP[row], MAP_W, MAP_H)
    mp.set_xlim(0, L)
    mp.set_ylim(0, MAP_H)
    mp.axis('off')
    mp.vlines([L * i / 8 for i in range(9)], 0, MAP_H, colors='#c2c2c2', lw=1.3, zorder=1)
    head = L * 4 / MAP_W
    for s, e, strand, level, label in p['genes']:
        yc = 15 + (level - 1) * 6
        mp.add_patch(Polygon(gene_shape(s, e, strand, yc, head), closed=True, facecolor=GENE,
                             edgecolor='black', lw=0.8, zorder=2))
        if label:
            mp.text((s + e) / 2, yc, label, fontsize=7.5, fontweight='bold', fontstyle='italic',
                    ha='center', va='center', color='#222222', zorder=3)

    fig.text(name_x / W, 1 - NAME_Y[row] / H, p['name'], fontsize=11, fontweight='bold', va='baseline')
    x = name_x
    for text, weight, style in p['sub']:
        t = fig.text(x / W, 1 - (NAME_Y[row] + 15) / H, text, fontsize=9.3, fontweight=weight,
                     fontstyle=style, va='baseline', color='#222222')
        x = t.get_window_extent(renderer).x1 + 3.6


for k, p in enumerate(PANELS):
    draw_panel(p, AX_LEFT[k], k // 3, NAME_X[k])

for text, x, y, style in section_titles:
    fig.text(x / W, 1 - y / H, text, fontsize=22.5, fontweight='bold', fontstyle=style, va='baseline')

# grey frame around the sections
frame = [((7, 7), (1168, 7)), ((7, 445), (1168, 445)), ((7, 884), (1168, 884)), ((7, 1322), (1168, 1322)),
         ((7, 7), (7, 1755)), ((794, 7), (794, 884)), ((794, 1322), (794, 1755))]
for (x0, y0), (x1, y1) in frame:
    fig.add_artist(Line2D([x0 / W, x1 / W], [1 - y0 / H, 1 - y1 / H], color='#c8c8c8', lw=1.5))

fig.savefig('out.png', dpi=100)
